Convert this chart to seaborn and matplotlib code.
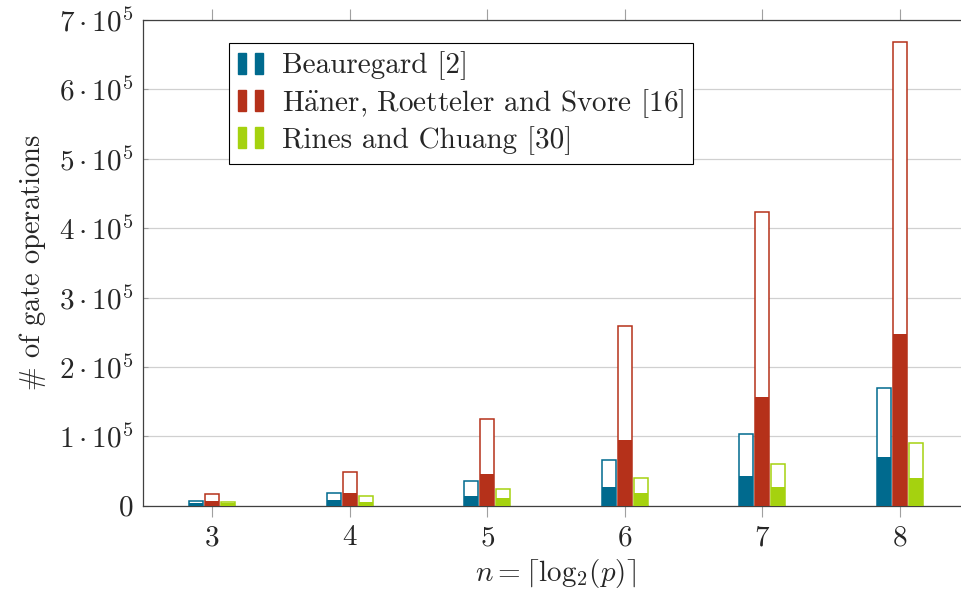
import matplotlib
matplotlib.use("Agg")
import matplotlib.pyplot as plt
import numpy as np
import pandas as pd
import seaborn as sns
from matplotlib.patches import Patch
from matplotlib.legend_handler import HandlerTuple
from matplotlib.ticker import FuncFormatter

# values
n_values = [3, 4, 5, 6, 7, 8]
methods = ["Beauregard [2]", "Häner, Roetteler and Svore [16]", "Rines and Chuang [30]"]
legend_labels = [r"Beauregard [2]",
                 r"H$\mathrm{\ddot{a}}$ner, Roetteler and Svore [16]",
                 r"Rines and Chuang [30]"]
colors = ["#006a8e", "#b5311a", "#a5d20f"]

beauregard_total = [7200, 18100, 35500, 65300, 103600, 170000]
beauregard_part = [4000, 7600, 14400, 26900, 42700, 70000]
haner_total = [17300, 48500, 124300, 258600, 424000, 669000]
haner_part = [7200, 18700, 46000, 94500, 156400, 247500]
rines_total = [5800, 13400, 23600, 40000, 59600, 90600]
rines_part = [3300, 5800, 11000, 18700, 26500, 40000]

totals = [beauregard_total, haner_total, rines_total]
parts = [beauregard_part, haner_part, rines_part]

rows = []
for m, tot, prt in zip(methods, totals, parts):
    for n, t, p in zip(n_values, tot, prt):
        rows.append({"n": n, "method": m, "total": t, "part": p})
df = pd.DataFrame(rows)

sns.set_theme(style="white")
plt.rcParams["font.family"] = ["cmr10", "DejaVu Serif"]
plt.rcParams["mathtext.fontset"] = "cm"
plt.rcParams["axes.formatter.use_mathtext"] = True

fs = 21

fig = plt.figure(figsize=(9.61, 5.98), dpi=100)
ax = fig.add_axes([143.3 / 961, 1 - 505.7 / 598, (968.7 - 143.3) / 961, (505.7 - 20) / 598])

# outlined total bars
sns.barplot(data=df, x="n", y="total", hue="method", hue_order=methods,
            palette=colors, saturation=1, width=0.349, gap=0.12, errorbar=None,
            legend=False, ax=ax, linewidth=1.1)
n_first = len(ax.patches)
for p in ax.patches:
    c = p.get_facecolor()
    p.set_edgecolor(c)
    p.set_facecolor("white")
    p.set_zorder(2)

# filled part
sns.barplot(data=df, x="n", y="part", hue="method", hue_order=methods,
            palette=colors, saturation=1, width=0.349, gap=0.12, errorbar=None,
            legend=False, ax=ax, linewidth=0)
for p in ax.patches[n_first:]:
    p.set_zorder(3)

ax.set_xlim(-0.5, 5.5)
ax.set_ylim(0, 7e5)
ax.set_yticks(np.arange(0, 7.01e5, 1e5))
ax.yaxis.set_major_formatter(FuncFormatter(
    lambda v, _: "$0$" if v == 0 else r"$%d\cdot 10^{5}$" % round(v / 1e5)))
ax.set_xticks(range(len(n_values)))
ax.set_xticklabels([f"${n}$" for n in n_values])

ax.grid(axis="y", color="#d0d0d0", linewidth=0.9)
ax.set_axisbelow(True)
for s in ax.spines.values():
    s.set_color("#404040")
    s.set_linewidth(0.9)

ax.tick_params(axis="x", which="both", bottom=True, top=True, direction="out",
               length=8, width=0.8, color="#a0a0a0", labelsize=fs, pad=6)
ax.tick_params(axis="y", which="both", left=True, right=True, direction="in",
               length=3.5, width=0.8, color="#a0a0a0", labelsize=fs, pad=7)

ax.set_xlabel(r"$n = \lceil \log_2\!(p) \rceil$", fontsize=fs, labelpad=4)
ax.set_ylabel(r"$\#$ of gate operations", fontsize=20.5, labelpad=8)

handles = [(Patch(facecolor=c, edgecolor=c), Patch(facecolor=c, edgecolor=c)) for c in colors]
leg = ax.legend(handles, legend_labels, handler_map={tuple: HandlerTuple(ndivide=None, pad=0.3)},
                loc="upper left", bbox_to_anchor=(0.104, 0.953), borderaxespad=0,
                fontsize=fs, frameon=True, fancybox=False, edgecolor="black",
                framealpha=1, handlelength=0.85, handleheight=0.75,
                labelspacing=0.22, handletextpad=0.65, borderpad=0.3)
leg.get_frame().set_linewidth(0.8)

fig.savefig("out.png", dpi=100)
